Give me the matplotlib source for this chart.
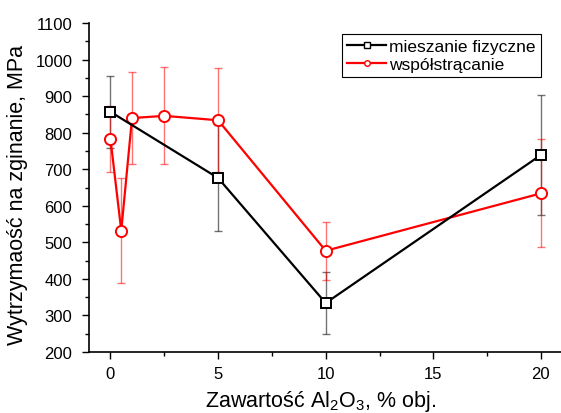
import matplotlib
matplotlib.use("Agg")
import matplotlib.pyplot as plt
from matplotlib.ticker import MultipleLocator

plt.rcParams['font.family'] = ['Liberation Sans', 'DejaVu Sans']
plt.rcParams['mathtext.fontset'] = 'custom'
plt.rcParams['mathtext.rm'] = 'Liberation Sans'
plt.rcParams['mathtext.it'] = 'Liberation Sans'

x_mech = [0, 5, 10, 20]
y_mech = [857, 676, 334, 739]
e_mech = [98, 145, 84, 165]

x_cop = [0, 0.5, 1, 2.5, 5, 10, 20]
y_cop = [782, 532, 840, 846, 834, 477, 634]
e_cop = [90, 143, 127, 133, 142, 80, 148]

label_mech = "mieszanie fizyczne"
label_cop = "współstrącanie"

fig = plt.figure(figsize=(5.61, 4.14), dpi=100)
ax = fig.add_axes([0.1586, 0.1473, 0.844, 0.7947])

# error bars (lighter)
ax.errorbar(x_mech, y_mech, yerr=e_mech, fmt='none', ecolor='black', alpha=0.55,
            elinewidth=1.0, capsize=3, capthick=1.0, zorder=2)
ax.errorbar(x_cop, y_cop, yerr=e_cop, fmt='none', ecolor='red', alpha=0.55,
            elinewidth=1.0, capsize=3, capthick=1.0, zorder=2)

ax.plot(x_mech, y_mech, color='black', lw=1.6, marker='s', ms=7, mfc='white',
        mec='black', mew=1.4, zorder=4)
ax.plot(x_cop, y_cop, color='red', lw=1.6, marker='o', ms=8, mfc='white',
        mec='red', mew=1.4, zorder=3)

# legend handles with small markers
h1, = ax.plot([], [], color='black', lw=1.6, marker='s', ms=4, mfc='white', mec='black', mew=1.0)
h2, = ax.plot([], [], color='red', lw=1.6, marker='o', ms=4, mfc='white', mec='red', mew=1.0)
leg = ax.legend([h1, h2], [label_mech, label_cop], loc='upper left',
                bbox_to_anchor=(0.535, 0.967), fontsize=12.5, frameon=True,
                fancybox=False, framealpha=1, edgecolor='black',
                handlelength=2.2, handletextpad=0.2, borderpad=0.3,
                labelspacing=0.15, borderaxespad=0)
leg.get_frame().set_linewidth(0.8)

ax.set_xlim(-1, 21)
ax.set_ylim(200, 1100)
ax.xaxis.set_major_locator(MultipleLocator(5))
ax.xaxis.set_minor_locator(MultipleLocator(2.5))
ax.yaxis.set_major_locator(MultipleLocator(100))
ax.yaxis.set_minor_locator(MultipleLocator(50))
ax.tick_params(which='major', direction='out', length=5, width=1, labelsize=12)
ax.tick_params(which='minor', direction='out', length=3, width=1)
ax.tick_params(axis='y', which='major', pad=7)
ax.tick_params(axis='x', which='major', pad=5)

for s in ['top', 'right']:
    ax.spines[s].set_visible(False)
for s in ['left', 'bottom']:
    ax.spines[s].set_linewidth(1.2)

ax.set_xlabel("Zawartość Al$_2$O$_3$, % obj.", fontsize=15.5, labelpad=6)
ax.set_ylabel("Wytrzymaość na zginanie, MPa", fontsize=15.5)
ax.yaxis.set_label_coords(-0.128, 0.48)
ax.xaxis.set_label_coords(0.49, -0.11)

fig.savefig("out.png", dpi=100)
